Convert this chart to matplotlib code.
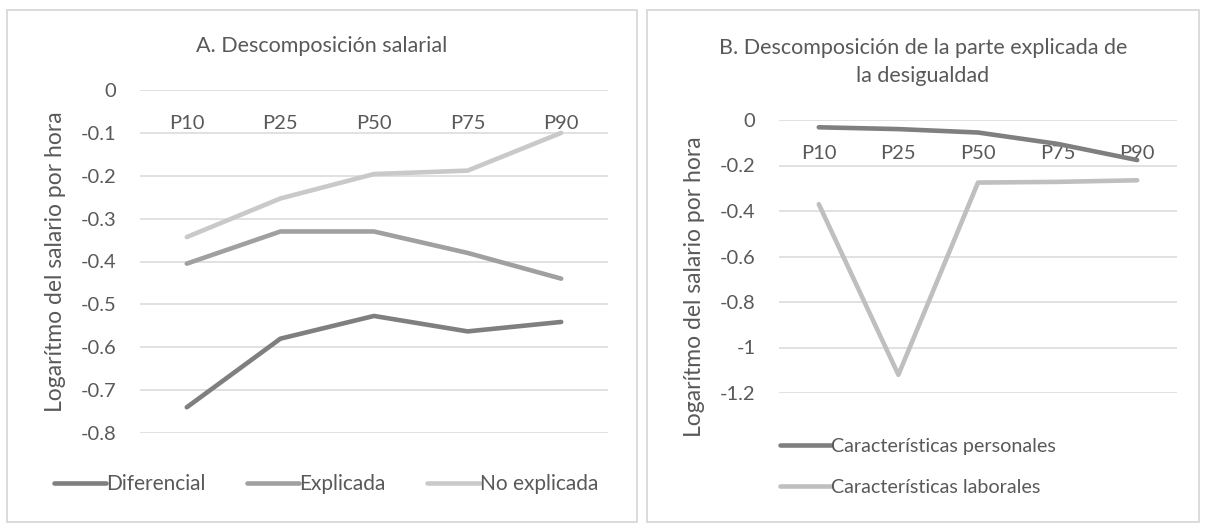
import matplotlib
matplotlib.use("Agg")
import matplotlib.pyplot as plt
from matplotlib.patches import Rectangle

plt.rcParams['font.family'] = ['Lato', 'DejaVu Sans']
plt.rcParams['axes.unicode_minus'] = False

# ---- data ----
categories = ["P10", "P25", "P50", "P75", "P90"]

diferencial = [-0.74, -0.58, -0.527, -0.563, -0.541]
explicada = [-0.405, -0.33, -0.33, -0.38, -0.44]
no_explicada = [-0.343, -0.253, -0.196, -0.188, -0.100]

personales = [-0.032, -0.040, -0.055, -0.105, -0.176]
laborales = [-0.37, -1.12, -0.275, -0.272, -0.265]

yticks_a = [0, -0.1, -0.2, -0.3, -0.4, -0.5, -0.6, -0.7, -0.8]
yticklabels_a = ["0", "-0.1", "-0.2", "-0.3", "-0.4", "-0.5", "-0.6", "-0.7", "-0.8"]
yticks_b = [0, -0.2, -0.4, -0.6, -0.8, -1.0, -1.2]
yticklabels_b = ["0", "-0.2", "-0.4", "-0.6", "-0.8", "-1", "-1.2"]

title_a = "A. Descomposición salarial"
title_b = "B. Descomposición de la parte explicada de\nla desigualdad"
ylabel = "Logarítmo del salario por hora"

# ---- style ----
W, H = 1205, 524
TXT = "#595959"
GRID = "#d9d9d9"
C_DIF = "#7f7f7f"
C_EXP = "#a0a0a0"
C_NOE = "#c9c9c9"
C_PER = "#7f7f7f"
C_LAB = "#bfbfbf"
LW = 3.3
TICK_FS = 14.5
LAB_FS = 16.5
TITLE_FS = 15.5
LEG_FS_A = 15
LEG_FS_B = 14.2

fig = plt.figure(figsize=(W / 100, H / 100), dpi=100)
fig.patch.set_facecolor("white")

def fx(px):
    return px / W

def fy(py):
    return 1 - py / H

# panel borders
for (x0, y0, x1, y1) in [(7, 10, 637, 522), (647, 10, 1199, 522)]:
    fig.patches.append(Rectangle((fx(x0), fy(y1)), fx(x1 - x0), (y1 - y0) / H,
                                 transform=fig.transFigure, fill=False,
                                 edgecolor="#d9d9d9", linewidth=1.3))

def style_axes(ax, yticks, yticklabels, ylim):
    ax.set_xlim(-0.5, len(categories) - 0.5)
    ax.set_ylim(*ylim)
    ax.set_yticks(yticks)
    ax.set_yticklabels(yticklabels)
    ax.set_xticks(range(len(categories)))
    ax.set_xticklabels(categories)
    ax.xaxis.set_ticks_position('top')
    ax.tick_params(axis='x', top=False, bottom=False, labeltop=True,
                   labelbottom=False, length=0, pad=-30, labelsize=TICK_FS,
                   labelcolor=TXT)
    ax.tick_params(axis='y', left=False, length=0, pad=17, labelsize=TICK_FS,
                   labelcolor=TXT)
    for s in ax.spines.values():
        s.set_visible(False)
    ax.grid(axis='y', color=GRID, linewidth=1.1)
    ax.set_axisbelow(True)

# ---- panel A ----
axA = fig.add_axes([fx(140), fy(433), fx(608 - 140), (433 - 90) / H])
style_axes(axA, yticks_a, yticklabels_a, (-0.8, 0))
x = list(range(len(categories)))
axA.plot(x, diferencial, color=C_DIF, lw=LW, label="Diferencial", clip_on=False,
         solid_capstyle='round')
axA.plot(x, explicada, color=C_EXP, lw=LW, label="Explicada", clip_on=False,
         solid_capstyle='round')
axA.plot(x, no_explicada, color=C_NOE, lw=LW, label="No explicada", clip_on=False,
         solid_capstyle='round')
fig.text(fx(322), fy(46), title_a, ha='center', va='center', fontsize=TITLE_FS, color=TXT)
fig.text(fx(56), fy(262), ylabel, ha='center', va='center', rotation=90,
         fontsize=LAB_FS, color=TXT)
legA = axA.legend(loc='center', bbox_to_anchor=(fx(326), fy(484)),
                  bbox_transform=fig.transFigure, ncol=3, frameon=False,
                  fontsize=LEG_FS_A, handlelength=2.5, handletextpad=0.0,
                  columnspacing=2.0, labelcolor=TXT)

# ---- panel B ----
axB = fig.add_axes([fx(779), fy(393), fx(1177 - 779), (393 - 120) / H])
style_axes(axB, yticks_b, yticklabels_b, (-1.2, 0))
axB.plot(x, personales, color=C_PER, lw=LW, label="Características personales",
         clip_on=False, solid_capstyle='round')
axB.plot(x, laborales, color=C_LAB, lw=LW, label="Características laborales",
         clip_on=False, solid_capstyle='round')
fig.text(fx(923), fy(62), title_b, ha='center', va='center', fontsize=TITLE_FS,
         color=TXT, linespacing=1.45)
fig.text(fx(695), fy(287), ylabel, ha='center', va='center', rotation=90,
         fontsize=LAB_FS, color=TXT)
legB = axB.legend(loc='center left', bbox_to_anchor=(fx(762), fy(467)),
                  bbox_transform=fig.transFigure, ncol=1, frameon=False,
                  fontsize=LEG_FS_B, handlelength=2.6, handletextpad=0.0,
                  labelspacing=1.2, labelcolor=TXT)

fig.savefig("out.png", dpi=100, facecolor="white")
